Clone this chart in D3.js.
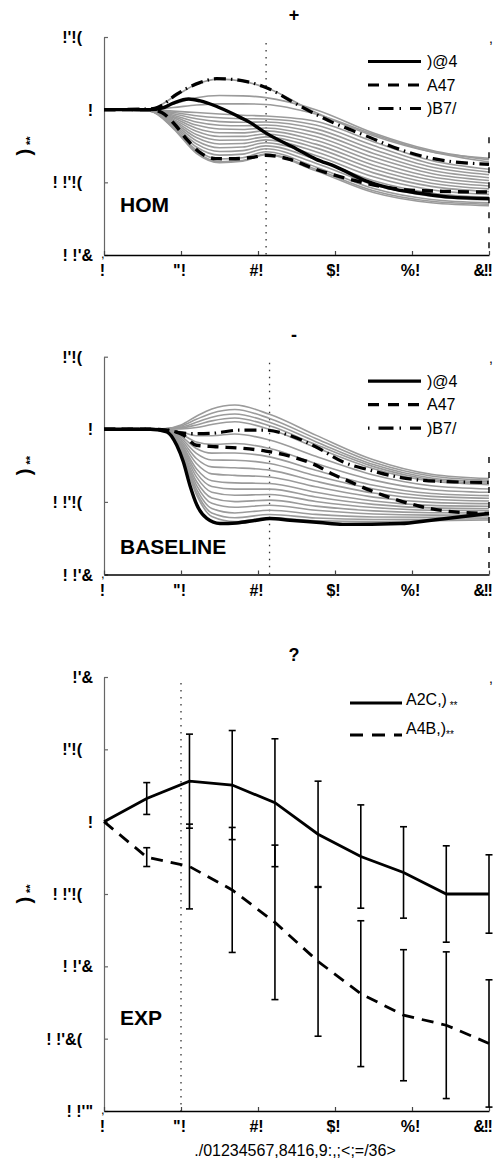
<!DOCTYPE html>
<html><head><meta charset="utf-8">
<script src="https://cdn.jsdelivr.net/npm/d3@7"></script>
<style>
body{margin:0;background:#fff;}
svg{display:block;font-family:"Liberation Sans",Arial,sans-serif;}
</style>
</head><body>
<svg id="c" width="494" height="1163"></svg>
<script>
// ---------- shared axis data ----------
const xTicks = [0, 20, 40, 60, 80, 100];
const xTickLabels = ["!", "\"!", "#!", "$!", "%!", "&!!"];
const yTicksTop = [0.05, 0, -0.05, -0.1];
const yTickLabelsTop = ["!'!(", "!", "! !'!(", "! !'&"];
const yTicksExp = [0.1, 0.05, 0, -0.05, -0.1, -0.15, -0.2];
const yTickLabelsExp = ["!'&", "!'!(", "!", "! !'!(", "! !'&", "! !'&(", "! !'\""];
const yTitleMain = ")";
const yTitleSub = "**";
const xTitle = "./01234567,8416,9:,;<;=/36>";
const panelTitles = ["+", "-", "?"];
const panelNames = ["HOM", "BASELINE", "EXP"];
const legendTop = [")@4", "A47", ")B7/"];
const legendExp = ["A2C,)", "A4B,)"];
const legendExpSub = [" **", "**"];
const markerX = [42.1, 43, 20];

// ---------- HOM panel ----------
const homGX = [0, 12, 18, 24, 30, 36, 42, 55, 70, 85, 100];
const homGray = [
  [0, 0.0005, 0.0085, 0.0175, 0.021, 0.0195, 0.0152, -0.002, -0.018, -0.029, -0.0335],
  [0, 0.0003, 0.004, 0.0082, 0.0097, 0.0095, 0.0083, 0.0, -0.016, -0.028, -0.0345],
  [0, 0.0002, 0.0015, 0.0032, 0.004, 0.004, 0.0036, -0.003, -0.017, -0.029, -0.036],
  [0, -0.0001, -0.001, -0.002, -0.003, -0.0038, -0.0044, -0.008, -0.022, -0.035, -0.041],
  [0, -0.0002, -0.0019, -0.0042, -0.0056, -0.0062, -0.0064, -0.0106, -0.0247, -0.0372, -0.0429],
  [0, -0.0002, -0.0028, -0.0063, -0.0082, -0.0087, -0.0085, -0.0132, -0.0274, -0.0395, -0.0448],
  [0, -0.0003, -0.0038, -0.0085, -0.0107, -0.0111, -0.0105, -0.0158, -0.0301, -0.0417, -0.0468],
  [0, -0.0004, -0.0047, -0.0106, -0.0133, -0.0136, -0.0126, -0.0185, -0.0328, -0.0439, -0.0487],
  [0, -0.0004, -0.0056, -0.0128, -0.0159, -0.016, -0.0146, -0.0211, -0.0355, -0.0462, -0.0506],
  [0, -0.0005, -0.0065, -0.0149, -0.0185, -0.0184, -0.0167, -0.0237, -0.0382, -0.0484, -0.0525],
  [0, -0.0006, -0.0075, -0.0171, -0.021, -0.0209, -0.0187, -0.0263, -0.0408, -0.0506, -0.0545],
  [0, -0.0007, -0.0084, -0.0192, -0.0236, -0.0233, -0.0208, -0.0289, -0.0435, -0.0528, -0.0564],
  [0, -0.0007, -0.0093, -0.0214, -0.0262, -0.0257, -0.0228, -0.0315, -0.0462, -0.0551, -0.0583],
  [0, -0.0008, -0.0102, -0.0235, -0.0288, -0.0282, -0.0249, -0.0342, -0.0489, -0.0573, -0.0602],
  [0, -0.0009, -0.0112, -0.0257, -0.0313, -0.0306, -0.0269, -0.0368, -0.0516, -0.0595, -0.0622],
  [0, -0.0009, -0.0121, -0.0278, -0.0339, -0.0331, -0.029, -0.0394, -0.0543, -0.0618, -0.0641],
  [0, -0.001, -0.0125, -0.029, -0.0358, -0.035, -0.0305, -0.041, -0.0558, -0.063, -0.065],
  [0, -0.001, -0.013, -0.030, -0.0365, -0.0355, -0.031, -0.042, -0.057, -0.064, -0.066]
];
const homSolidX = [0, 12, 15, 18, 22, 25, 29, 34, 38, 42, 50, 55, 60, 68, 76, 82, 90, 100];
const homSolidY = [0, 0, 0.001, 0.0045, 0.0073, 0.006, 0.0025, -0.0035, -0.0089, -0.016, -0.027, -0.034, -0.039, -0.049, -0.055, -0.0575, -0.0602, -0.0612];
const homDashX = [0, 12, 15, 18, 21.5, 25, 29, 33, 38, 42, 48, 55, 64, 77, 88, 100];
const homDashY = [0, 0, -0.002, -0.009, -0.0204, -0.0296, -0.0337, -0.0338, -0.033, -0.0314, -0.034, -0.041, -0.048, -0.0548, -0.0562, -0.0567];
const homDotX = [0, 12, 15, 18.8, 24.9, 29.2, 33.5, 42.2, 50.9, 59.5, 68.2, 76.8, 85.5, 100];
const homDotY = [0, 0.0005, 0.003, 0.0105, 0.0186, 0.0213, 0.0208, 0.0151, 0.0025, -0.0089, -0.0182, -0.0273, -0.0337, -0.0376];

// ---------- BASELINE panel ----------
const baseGX = [0, 12, 16, 20, 24, 28, 34, 43, 55, 70, 85, 100];
const baseGray = [
  [0, 0, 0.0005, 0.003, 0.009, 0.014, 0.0167, 0.0103, -0.004, -0.021, -0.031, -0.034],
  [0, 0, 0.0004, 0.0023, 0.0069, 0.0111, 0.0136, 0.0075, -0.0063, -0.0227, -0.0322, -0.0351],
  [0, 0, 0.0004, 0.0015, 0.0048, 0.0083, 0.0105, 0.0048, -0.0085, -0.0243, -0.0335, -0.0362],
  [0, 0, 0.0003, 0.0009, 0.003, 0.0058, 0.0078, 0.0024, -0.0105, -0.0257, -0.0346, -0.0372],
  [0, 0, 0.0003, 0.0003, 0.0012, 0.0033, 0.0052, 0.0, -0.0125, -0.0271, -0.0356, -0.0381],
  [0, 0, 0.0001, -0.0017, -0.0044, -0.0044, -0.0032, -0.0074, -0.0186, -0.0315, -0.0389, -0.0411],
  [0, 0, 0.0, -0.0033, -0.0088, -0.0104, -0.0098, -0.0132, -0.0235, -0.035, -0.0416, -0.0434],
  [0, 0, -0.0001, -0.0048, -0.0132, -0.0164, -0.0163, -0.019, -0.0282, -0.0385, -0.0442, -0.0457],
  [0, 0, -0.0002, -0.006, -0.0166, -0.0211, -0.0213, -0.0235, -0.032, -0.0411, -0.0462, -0.0475],
  [0, 0, -0.0003, -0.0072, -0.0201, -0.0259, -0.0265, -0.0281, -0.0358, -0.0439, -0.0482, -0.0494],
  [0, 0, -0.0004, -0.0085, -0.0236, -0.0307, -0.0317, -0.0328, -0.0396, -0.0467, -0.0503, -0.0512],
  [0, 0, -0.0005, -0.0097, -0.0271, -0.0354, -0.0369, -0.0373, -0.0434, -0.0494, -0.0524, -0.053],
  [0, 0, -0.0006, -0.0107, -0.030, -0.0394, -0.0412, -0.0412, -0.0466, -0.0517, -0.0541, -0.0546],
  [0, 0, -0.0007, -0.0117, -0.0328, -0.0433, -0.0454, -0.0449, -0.0497, -0.0539, -0.0558, -0.0561],
  [0, 0, -0.0007, -0.0128, -0.0358, -0.0473, -0.0498, -0.0488, -0.0529, -0.0562, -0.0575, -0.0576],
  [0, 0, -0.0008, -0.0137, -0.0384, -0.051, -0.0537, -0.0523, -0.0558, -0.0583, -0.0591, -0.059],
  [0, 0, -0.0009, -0.0146, -0.041, -0.0545, -0.0576, -0.0557, -0.0586, -0.0604, -0.0606, -0.0604],
  [0, 0, -0.001, -0.0154, -0.0433, -0.0576, -0.0609, -0.0587, -0.0611, -0.0621, -0.062, -0.0616],
  [0, 0, -0.001, -0.016, -0.045, -0.060, -0.0635, -0.061, -0.063, -0.0635, -0.063, -0.0625]
];
const baseSolidX = [0, 12, 16.3, 18.9, 20.6, 22.3, 24.1, 26.7, 30.1, 34.4, 39.6, 43.1, 48.3, 56, 62, 77, 85, 100];
const baseSolidY = [0, 0, -0.0017, -0.011, -0.0224, -0.0385, -0.052, -0.0614, -0.0649, -0.0645, -0.0626, -0.0614, -0.0626, -0.0642, -0.0655, -0.0649, -0.0626, -0.058];
const baseDashX = [0, 12, 16, 20.6, 24, 29, 36, 42, 48, 55, 59, 64, 69, 75, 82, 91, 100];
const baseDashY = [0, 0, -0.0005, -0.004, -0.011, -0.012, -0.0131, -0.015, -0.0183, -0.0247, -0.0304, -0.0362, -0.0419, -0.0477, -0.053, -0.0569, -0.058];
const baseDotX = [0, 12, 16, 20, 24, 28, 35, 42, 48, 55, 62, 69, 76, 82, 91, 100];
const baseDotY = [0, 0, -0.0003, -0.0025, -0.003, -0.0028, -0.0006, -0.0006, -0.004, -0.012, -0.0224, -0.0281, -0.0327, -0.035, -0.0362, -0.0366];

// ---------- EXP panel ----------
const expX = [0, 11.1, 22.2, 33.3, 44.4, 55.6, 66.7, 77.8, 88.9, 100];
const expSolid = [0, 0.016, 0.028, 0.0253, 0.0131, -0.0087, -0.0241, -0.0351, -0.05, -0.05];
const expSolidErr = [0, 0.011, 0.0325, 0.0377, 0.0442, 0.0367, 0.0357, 0.0316, 0.0333, 0.0271];
const expDash = [0, -0.0245, -0.031, -0.0472, -0.0696, -0.0966, -0.1189, -0.1338, -0.1407, -0.1533];
const expDashErr = [0, 0.0065, 0.0293, 0.0432, 0.0534, 0.0517, 0.0504, 0.0453, 0.0507, 0.044];

// ---------- drawing ----------
const svg = d3.select("#c");
const x = d3.scaleLinear().domain([0, 100]).range([104, 489]);
const BOLD = "bold";

function drawAxes(y, ticks, labels, top, bottom, name, title, titleY, i) {
  const g = svg.append("g");
  const ax = g.append("g").attr("transform", "translate(104,0)")
    .call(d3.axisLeft(y).tickValues(ticks).tickSize(-4).tickSizeOuter(0).tickFormat((d, k) => labels[k]));
  ax.select(".domain").attr("stroke", "#666").attr("stroke-width", 1.2);
  ax.selectAll(".tick line").attr("stroke", "#666").attr("stroke-width", 1.2);
  ax.selectAll(".tick text")
    .attr("font-family", "Liberation Sans, Arial, sans-serif")
    .attr("font-size", 16).attr("font-weight", BOLD).attr("fill", "#000")
    .attr("text-anchor", "end")
    .attr("x", (d, k) => labels[k].endsWith("(") ? -22 : -11)
    .attr("dy", "0.35em");
  const last = xTicks.length - 1;
  const bx = g.append("g").attr("transform", `translate(0,${bottom})`)
    .call(d3.axisBottom(x).tickValues(xTicks).tickSize(-4).tickSizeOuter(0).tickFormat((d, k) => xTickLabels[k]));
  bx.select(".domain").attr("stroke", "#000").attr("stroke-width", 1.4);
  bx.selectAll(".tick line").attr("stroke", "#444").attr("stroke-width", 1.2);
  bx.selectAll(".tick text")
    .attr("font-family", "Liberation Sans, Arial, sans-serif")
    .attr("font-size", 16).attr("font-weight", BOLD).attr("fill", "#000")
    .attr("y", 10).attr("dy", "0.71em")
    .attr("text-anchor", (d, k) => k === last ? "start" : "middle")
    .attr("letter-spacing", (d, k) => k === last ? -1.5 : 0)
    .attr("dx", (d, k) => k === last ? -16 : -2);
  g.append("text").attr("x", 101).attr("y", bottom + 3).attr("font-size", 13).text(",");
  g.append("text").attr("x", 489).attr("y", top + 6).attr("font-size", 14).text(",");
  g.append("text").attr("x", 294).attr("y", titleY).attr("text-anchor", "middle")
    .attr("font-size", 18).attr("font-weight", BOLD).text(title);
  const cy = (top + bottom) / 2;
  const t = g.append("text").attr("transform", `translate(31,${cy}) rotate(-90)`)
    .attr("text-anchor", "middle").attr("font-size", 20).attr("font-weight", BOLD);
  t.append("tspan").text(yTitleMain);
  t.append("tspan").attr("font-size", 11).attr("dy", 3).attr("dx", 4).text(yTitleSub);
  g.append("text").attr("x", 120).attr("y", name.y).attr("font-size", 21)
    .attr("font-weight", BOLD).text(name.text);
  g.append("line").attr("x1", x(markerX[i])).attr("x2", x(markerX[i]))
    .attr("y1", top + 6).attr("y2", bottom)
    .attr("stroke", "#333").attr("stroke-width", 1.3).attr("stroke-dasharray", "1.5,5.5");
}

function curveLine(xs, y, curve) {
  return d3.line().x((d, k) => x(xs[k])).y(d => y(d)).curve(curve);
}

function drawSimPanel(cfg) {
  const y = d3.scaleLinear().domain([-0.1, 0.05]).range([cfg.bottom, cfg.top]);
  drawAxes(y, yTicksTop, yTickLabelsTop, cfg.top, cfg.bottom, cfg.name, cfg.title, cfg.titleY, cfg.i);
  const g = svg.append("g");
  const gl = curveLine(cfg.gx, y, d3.curveMonotoneX);
  g.selectAll("path.gray").data(cfg.gray).join("path").attr("class", "gray")
    .attr("d", gl).attr("fill", "none").attr("stroke", "#9b9b9b").attr("stroke-width", 1.6);
  g.append("line").attr("x1", x(100)).attr("x2", x(100)).attr("y1", y(-0.019)).attr("y2", cfg.bottom)
    .attr("stroke", "#000").attr("stroke-width", 1.4).attr("stroke-dasharray", "6,9");
  g.append("path").attr("d", curveLine(cfg.dotX, y, d3.curveMonotoneX)(cfg.dotY))
    .attr("fill", "none").attr("stroke", "#000").attr("stroke-width", 3.2).attr("stroke-dasharray", "12,5,1.5,5");
  g.append("path").attr("d", curveLine(cfg.dashX, y, d3.curveMonotoneX)(cfg.dashY))
    .attr("fill", "none").attr("stroke", "#000").attr("stroke-width", 3.4).attr("stroke-dasharray", "11,7");
  g.append("path").attr("d", curveLine(cfg.solidX, y, d3.curveMonotoneX)(cfg.solidY))
    .attr("fill", "none").attr("stroke", "#000").attr("stroke-width", 3.4);
  const dashes = [null, "11,9", "1.5,9,15,6"];
  legendTop.forEach((lab, k) => {
    const ly = cfg.top + 24.5 + k * 23.5;
    g.append("line").attr("x1", 368).attr("x2", 421).attr("y1", ly).attr("y2", ly)
      .attr("stroke", "#000").attr("stroke-width", 3.2)
      .attr("stroke-dasharray", dashes[k]);
    g.append("text").attr("x", 427).attr("y", ly).attr("dy", "0.36em").attr("font-size", 16).text(lab);
  });
}

drawSimPanel({i: 0, top: 37, bottom: 255, title: panelTitles[0], titleY: 21,
  name: {text: panelNames[0], y: 212},
  gx: homGX, gray: homGray, solidX: homSolidX, solidY: homSolidY,
  dashX: homDashX, dashY: homDashY, dotX: homDotX, dotY: homDotY});
drawSimPanel({i: 1, top: 356.7, bottom: 574.5, title: panelTitles[1], titleY: 341,
  name: {text: panelNames[1], y: 554},
  gx: baseGX, gray: baseGray, solidX: baseSolidX, solidY: baseSolidY,
  dashX: baseDashX, dashY: baseDashY, dotX: baseDotX, dotY: baseDotY});

(function () {
  const top = 677, bottom = 1111;
  const y = d3.scaleLinear().domain([-0.2, 0.1]).range([bottom, top]);
  drawAxes(y, yTicksExp, yTickLabelsExp, top, bottom, {text: panelNames[2], y: 1025}, panelTitles[2], 661, 2);
  const g = svg.append("g");
  const series = [
    {v: expSolid, e: expSolidErr, dash: null},
    {v: expDash, e: expDashErr, dash: "12,8"}
  ];
  series.forEach(s => {
    expX.forEach((xv, k) => {
      if (s.e[k] <= 0) return;
      const cx = x(xv), y1 = y(s.v[k] + s.e[k]), y2 = y(s.v[k] - s.e[k]);
      g.append("line").attr("x1", cx).attr("x2", cx).attr("y1", y1).attr("y2", y2)
        .attr("stroke", "#000").attr("stroke-width", 1.6);
      [y1, y2].forEach(yy => g.append("line").attr("x1", cx - 3.5).attr("x2", cx + 3.5)
        .attr("y1", yy).attr("y2", yy).attr("stroke", "#000").attr("stroke-width", 1.6));
    });
  });
  series.forEach(s => {
    g.append("path").attr("d", d3.line().x((d, k) => x(expX[k])).y(d => y(d))(s.v))
      .attr("fill", "none").attr("stroke", "#000").attr("stroke-width", 2.8)
      .attr("stroke-dasharray", s.dash);
  });
  const rows = [{ly: top + 26, ty: top + 22, dash: null}, {ly: top + 58, ty: top + 51, dash: "13,9"}];
  rows.forEach((r, k) => {
    g.append("line").attr("x1", 350).attr("x2", 402).attr("y1", r.ly).attr("y2", r.ly)
      .attr("stroke", "#000").attr("stroke-width", 3).attr("stroke-dasharray", r.dash);
    const t = g.append("text").attr("x", 406).attr("y", r.ty).attr("dy", "0.36em").attr("font-size", 16);
    t.append("tspan").text(legendExp[k]);
    t.append("tspan").attr("font-size", 10).attr("dy", 4).text(legendExpSub[k]);
  });
  g.append("text").attr("x", 295).attr("y", 1156).attr("text-anchor", "middle")
    .attr("font-size", 16).text(xTitle);
})();
</script>
</body></html>
